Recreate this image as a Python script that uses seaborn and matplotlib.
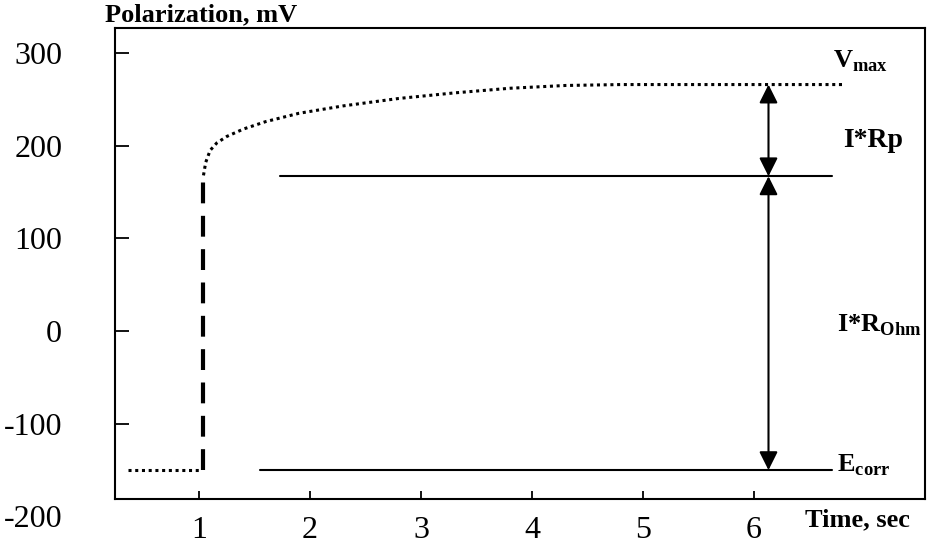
import numpy as np
import pandas as pd
import matplotlib
matplotlib.use("Agg")
import matplotlib.pyplot as plt
import seaborn as sns

# data
base_t = [0.36, 1.0]
base_v = [-150, -150]
jump_t = [1.04, 1.04]
jump_v = [-150, 168]
rise_t = [1.04, 1.06, 1.10, 1.16, 1.25, 1.40, 1.60, 1.90, 2.30, 2.80, 3.30, 3.80, 4.30, 4.80, 5.50, 6.20, 6.82]
rise_v = [168, 182, 195, 203, 210, 218, 226, 235, 243, 251, 257, 262, 265, 266, 266, 266, 266]
ohm_t = [1.73, 6.70]
ohm_v = [167, 167]
ecorr_t = [1.55, 6.70]
ecorr_v = [-150, -150]
arrow_t = 6.13
v_max = 266
v_ohm = 167
e_corr = -150
yticks = [300, 200, 100, 0, -100, -200]
xticks = [1, 2, 3, 4, 5, 6]

sns.set_style("white")
plt.rcParams["font.family"] = ["Liberation Serif", "DejaVu Serif"]
plt.rcParams["mathtext.fontset"] = "custom"
plt.rcParams["mathtext.rm"] = "Liberation Serif"
plt.rcParams["mathtext.bf"] = "Liberation Serif:bold"
plt.rcParams["text.color"] = "k"
plt.rcParams["xtick.color"] = "k"
plt.rcParams["ytick.color"] = "k"

fig = plt.figure(figsize=(9.32, 5.44), dpi=100)
ax = fig.add_axes([0.1234, 0.0506, 0.8691, 0.8979])

dots = (0, (1, 1.2))
sns.lineplot(x=base_t, y=base_v, ax=ax, color="k", lw=2.2, linestyle=dots,
             estimator=None, sort=False)
sns.lineplot(x=jump_t, y=jump_v, ax=ax, color="k", lw=3, linestyle=(0, (5, 3)),
             estimator=None, sort=False)
rise = pd.DataFrame({"t": rise_t, "v": rise_v})
sns.lineplot(data=rise, x="t", y="v", ax=ax, color="k", lw=2.2, linestyle=dots,
             estimator=None, sort=False)
sns.lineplot(x=ohm_t, y=ohm_v, ax=ax, color="k", lw=1.5, estimator=None)
sns.lineplot(x=ecorr_t, y=ecorr_v, ax=ax, color="k", lw=1.5, estimator=None)

arrow = dict(arrowstyle="<|-|>", color="k", lw=1.5, mutation_scale=28,
             shrinkA=0, shrinkB=0)
ax.annotate("", xy=(arrow_t, v_max), xytext=(arrow_t, v_ohm), arrowprops=arrow)
ax.annotate("", xy=(arrow_t, v_ohm), xytext=(arrow_t, e_corr), arrowprops=arrow)

ax.text(6.71, 291, r"$\mathbf{V}_{\mathbf{max}}$", fontsize=19, va="center")
ax.text(6.80, 206, "I*Rp", fontsize=20, fontweight="bold", va="center")
ax.text(6.75, 6, r"$\mathbf{I{*}R}_{\mathbf{Ohm}}$", fontsize=19, va="center")
ax.text(6.75, -145, r"$\mathbf{E}_{\mathbf{corr}}$", fontsize=19, va="center")

ax.set_xlabel("")
ax.set_ylabel("")
for s in ax.spines.values():
    s.set_color("k")
    s.set_linewidth(1.5)
ax.spines["bottom"].set_position(("data", -181))
ax.spines["left"].set_bounds(-181, 327)
ax.spines["right"].set_bounds(-181, 327)

ax.set_xlim(0.243, 7.54)
ax.set_ylim(-200, 327)
ax.set_xticks(xticks)
ax.set_yticks(yticks)
ax.set_xticklabels([str(x) for x in xticks])
ax.set_yticklabels([str(y) for y in yticks])
ax.tick_params(axis="x", bottom=True, direction="in", length=6, width=1.3,
               pad=12, labelsize=23)
ax.tick_params(axis="y", left=True, direction="in", length=10, width=1.3,
               pad=38, labelsize=23)
# -200 sits below the bottom spine, label only
for tk, val in zip(ax.yaxis.get_major_ticks(), yticks):
    if val == -200:
        tk.tick1line.set_visible(False)

fig.text(105 / 932, 1 - 15 / 544, "Polarization, mV", fontsize=19, fontweight="bold", va="center")
fig.text(805 / 932, 1 - 520 / 544, "Time, sec", fontsize=19, fontweight="bold", va="center")

fig.savefig("out.png", dpi=100)
